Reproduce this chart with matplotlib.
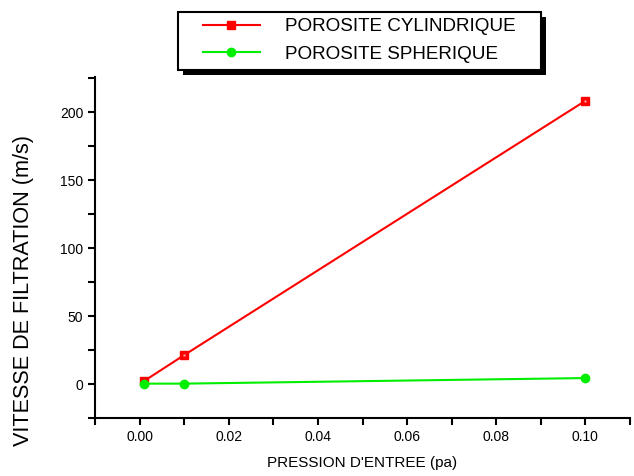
import matplotlib.pyplot as plt
from matplotlib.ticker import MultipleLocator
from matplotlib.patches import Rectangle
import matplotlib.patheffects as pe

plt.rcParams['font.family'] = ['Liberation Sans', 'DejaVu Sans']

# data
pression = [0.001, 0.01, 0.1]
cylindrique = [2.2, 21.3, 208.5]
spherique = [0.3, 0.3, 4.4]

W, H = 634, 476
fig = plt.figure(figsize=(W / 100, H / 100), dpi=100)
ax = fig.add_axes([95 / W, 1 - 418 / H, 535 / W, 341 / H])

l1, = ax.plot(pression, cylindrique, color='red', lw=1.5, marker='s', ms=6,
              mfc='red', mec='red', label='POROSITE CYLINDRIQUE')
ax.plot(pression, cylindrique, ls='none', marker='s', ms=2, mfc='#ffb0b0', mec='none')
l2, = ax.plot(pression, spherique, color='#00ee00', lw=1.5, marker='o', ms=6,
              mfc='#00ee00', mec='#00ee00', label='POROSITE SPHERIQUE')

ax.set_xlim(-0.01, 0.11)
ax.set_ylim(-25, 226)
ax.xaxis.set_major_locator(MultipleLocator(0.02))
ax.xaxis.set_minor_locator(MultipleLocator(0.01))
ax.yaxis.set_major_locator(MultipleLocator(50))
ax.yaxis.set_minor_locator(MultipleLocator(25))
ax.xaxis.set_major_formatter(plt.FormatStrFormatter('%.2f'))

ax.spines['top'].set_visible(False)
ax.spines['right'].set_visible(False)
for s in ['left', 'bottom']:
    ax.spines[s].set_linewidth(1.5)
ax.tick_params(which='major', direction='out', length=5, width=1.5, labelsize=10)
ax.tick_params(which='minor', direction='out', length=5, width=1.5)

fig.text(362 / W, 1 - 463 / H, "PRESSION D'ENTREE (pa)", fontsize=11, ha='center', va='center')
fig.text(24 / W, 1 - 290 / H, 'VITESSE DE FILTRATION (m/s)', fontsize=15.6,
         rotation=90, ha='center', va='center')

# legend box (Origin style, with hard shadow)
box = Rectangle((178 / W, 1 - 70 / H), 363 / W, 58 / H, transform=fig.transFigure,
                facecolor='white', edgecolor='black', lw=1.5, zorder=4)
box.set_path_effects([pe.SimplePatchShadow(offset=(3.5, -3.5), shadow_rgbFace='black', alpha=1),
                      pe.Normal()])
fig.patches.append(box)

leg = fig.legend(handles=[l1, l2], loc='upper left', bbox_to_anchor=(203 / W, 1 - 18 / H),
                 fontsize=13.6, frameon=False, handlelength=3.0, borderpad=0,
                 labelspacing=0.55, handletextpad=1.35, borderaxespad=0)
leg.set_zorder(5)

fig.savefig('out.png', dpi=100)
